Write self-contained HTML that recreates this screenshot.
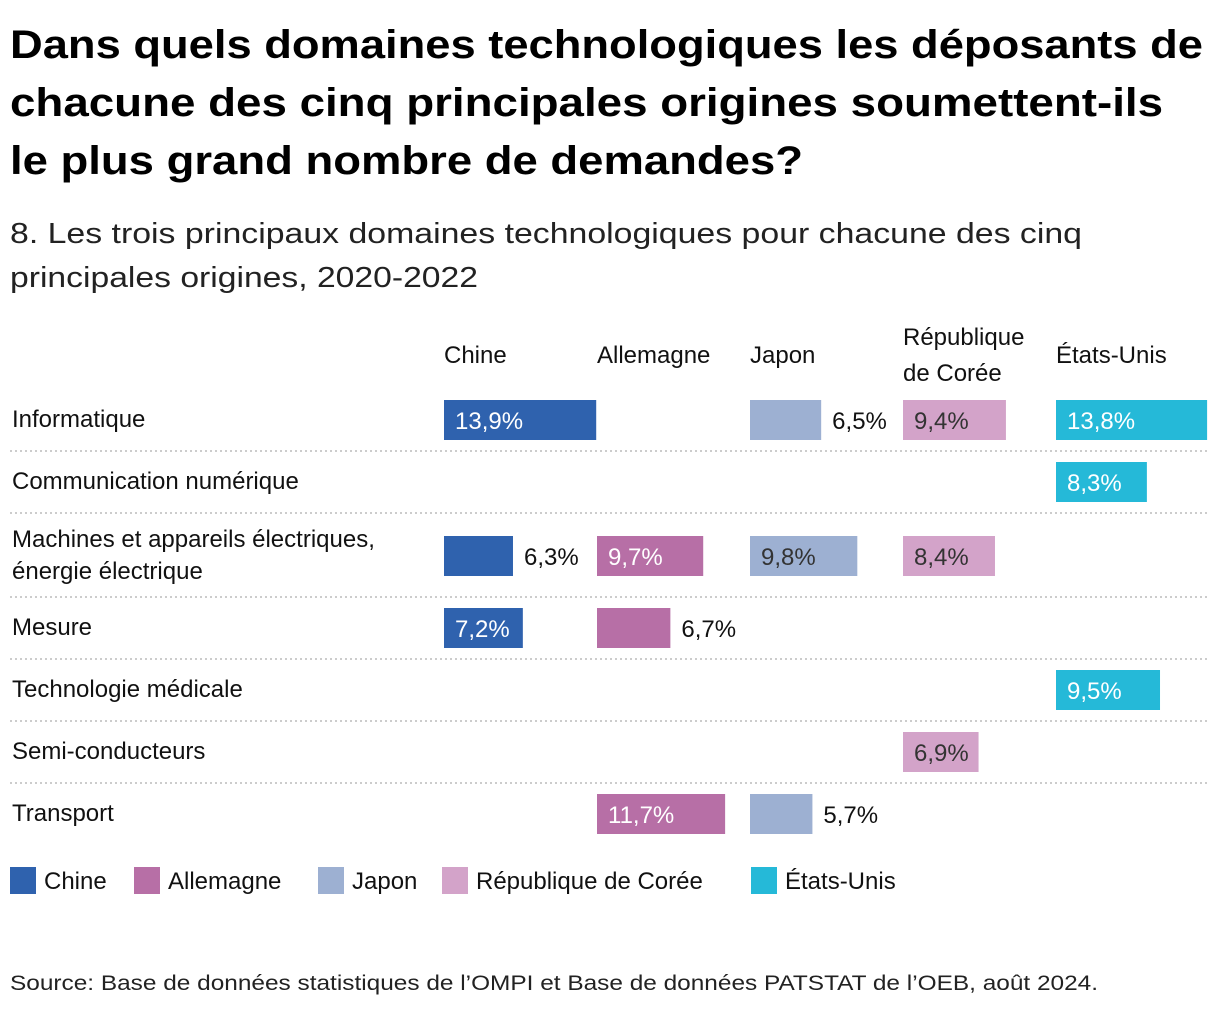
<!DOCTYPE html>
<html><head><meta charset="utf-8"><style>
body{margin:0;background:#fff;}
svg{display:block;font-family:"Liberation Sans",sans-serif;}
</style></head><body>
<svg id="chart" width="1220" height="1010" xmlns="http://www.w3.org/2000/svg">
<g font-weight="bold" font-size="40" fill="#000">
<text x="10" y="58" textLength="1193" lengthAdjust="spacingAndGlyphs">Dans quels domaines technologiques les déposants de</text>
<text x="10" y="116" textLength="1153" lengthAdjust="spacingAndGlyphs">chacune des cinq principales origines soumettent-ils</text>
<text x="10" y="174" textLength="793" lengthAdjust="spacingAndGlyphs">le plus grand nombre de demandes?</text>
</g>
<g font-size="29" fill="#222">
<text x="10" y="243" textLength="1072" lengthAdjust="spacingAndGlyphs">8. Les trois principaux domaines technologiques pour chacune des cinq</text>
<text x="10" y="287" textLength="468" lengthAdjust="spacingAndGlyphs">principales origines, 2020-2022</text>
</g>
<g id="plot"></g>
<text x="10" y="990" font-size="21" fill="#222" textLength="1088" lengthAdjust="spacingAndGlyphs">Source: Base de données statistiques de l’OMPI et Base de données PATSTAT de l’OEB, août 2024.</text>
</svg>
<script>
const origins = ["Chine","Allemagne","Japon","République de Corée","États-Unis"];
const domains = ["Informatique","Communication numérique","Machines et appareils électriques, énergie électrique","Mesure","Technologie médicale","Semi-conducteurs","Transport"];
const chineValues = [13.9,null,6.3,7.2,null,null,null];
const allemagneValues = [null,null,9.7,6.7,null,null,11.7];
const japonValues = [6.5,null,9.8,null,null,null,5.7];
const coreeValues = [9.4,null,8.4,null,null,6.9,null];
const usValues = [13.8,8.3,null,null,9.5,null,null];
const series=[chineValues,allemagneValues,japonValues,coreeValues,usValues];
const colors=["#2f62ae","#b76fa6","#9db0d2","#d3a3c9","#25b9d8"];
const textIn=["#fff","#fff","#333","#333","#fff"];
const ns="http://www.w3.org/2000/svg";
const plot=document.getElementById('plot');
const colX=i=>444+i*153;
const xs=v=>v*10.95;
const rowCenters=[420,482,556,628,690,752,814];
const rowSeps=[451,513,597,659,721,783];
function mk(tag,attrs,txt){const e=document.createElementNS(ns,tag);for(const k in attrs)e.setAttribute(k,attrs[k]);if(txt!=null)e.textContent=txt;plot.appendChild(e);return e;}
origins.forEach((o,i)=>{
  if(o==="République de Corée"){
    const t=mk('text',{x:colX(i),y:345,'font-size':24,fill:'#111'},'République');
    
    const t2=mk('text',{x:colX(i),y:381,'font-size':24,fill:'#111'},'de Corée');
    
  } else {
    const t=mk('text',{x:colX(i),y:363,'font-size':24,fill:'#111'},o);
    
  }
});
rowSeps.forEach(y=>{
  const l=mk('line',{x1:10,x2:1208,y1:y,y2:y,stroke:'#ccc','stroke-width':2,'stroke-dasharray':'2,3'});
  
});
domains.forEach((d,r)=>{
  const cy=rowCenters[r];
  if(d.startsWith("Machines")){
    const a=mk('text',{x:12,y:cy-9,'font-size':24,fill:'#111'},'Machines et appareils électriques,');
    
    const b=mk('text',{x:12,y:cy+23,'font-size':24,fill:'#111'},'énergie électrique');
    
  } else {
    const a=mk('text',{x:12,y:cy+7,'font-size':24,fill:'#111'},d);
    
  }
  series.forEach((s,i)=>{
    const v=s[r]; if(v==null)return;
    const w=xs(v);
    const rect=mk('rect',{x:colX(i),y:cy-20,width:w,height:40,fill:colors[i]});
    
    
    const lbl=v.toFixed(1).replace('.',',')+'%';
    const inside=v>=6.8;
    const t=mk('text',{x:inside?colX(i)+11:colX(i)+w+11,y:cy+9,'font-size':24,fill:inside?textIn[i]:'#111'},lbl);
    
    
  });
});
const legX=[10,134,318,442,751];
origins.forEach((o,i)=>{
  const r=mk('rect',{x:legX[i],y:867,width:26,height:27,fill:colors[i]});
  
  const t=mk('text',{x:legX[i]+34,y:889,'font-size':24,fill:'#111'},o);
  
});
</script>
</body></html>
